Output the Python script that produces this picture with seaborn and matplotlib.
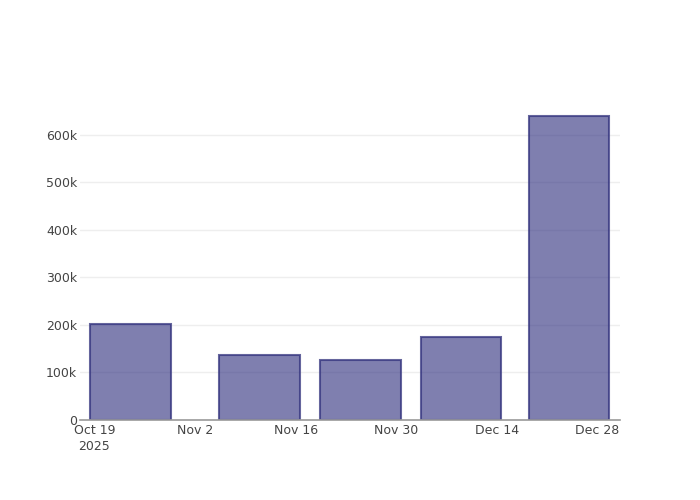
import matplotlib
matplotlib.use("Agg")
import matplotlib.pyplot as plt
import matplotlib.dates as mdates
from matplotlib.ticker import FuncFormatter
import seaborn as sns
import pandas as pd
import numpy as np

dates = ["2025-10-24", "2025-11-11", "2025-11-25", "2025-12-09", "2025-12-24"]
values = [202000, 137000, 126000, 175000, 640000]
tick_dates = ["2025-10-19", "2025-11-02", "2025-11-16", "2025-11-30", "2025-12-14", "2025-12-28"]
tick_labels = ["Oct 19\n2025", "Nov 2", "Nov 16", "Nov 30", "Dec 14", "Dec 28"]

sns.set_theme(style="white")
plt.rcParams["font.family"] = ["DejaVu Sans"]

x_num = mdates.date2num(pd.to_datetime(dates))
df = pd.DataFrame({"x": x_num, "y": values})

fig = plt.figure(figsize=(7, 5), dpi=100)
ax = fig.add_axes([80 / 700, 80 / 500, 540 / 700, 320 / 500])

sns.barplot(data=df, x="x", y="y", native_scale=True, width=0.8, saturation=1,
            color="#2a2a7b", ax=ax, zorder=2)
for p in ax.patches:
    p.set_facecolor((42 / 255, 42 / 255, 123 / 255, 0.6))
    p.set_edgecolor((50 / 255, 50 / 255, 125 / 255, 0.75))
    p.set_linewidth(1.5)

ax.set_xlim(mdates.date2num(pd.Timestamp("2025-10-17")), mdates.date2num(pd.Timestamp("2025-12-31 03:00")))
ax.set_ylim(0, 673000)
ax.set_xticks(mdates.date2num(pd.to_datetime(tick_dates)))
ax.set_xticklabels(tick_labels)
ax.set_yticks([0, 100000, 200000, 300000, 400000, 500000, 600000])
ax.yaxis.set_major_formatter(FuncFormatter(lambda v, _: "0" if v == 0 else f"{int(v/1000)}k"))

ax.yaxis.grid(True, color="#eeeeee", linewidth=1, zorder=0)
ax.set_axisbelow(True)
ax.set_xlabel("")
ax.set_ylabel("")
for s in ["top", "right", "left"]:
    ax.spines[s].set_visible(False)
ax.spines["bottom"].set_color("#9a9a9a")
ax.spines["bottom"].set_linewidth(1.2)
ax.tick_params(axis="both", length=0, labelsize=9, labelcolor="#444444")
ax.tick_params(axis="x", pad=3)
ax.tick_params(axis="y", pad=2)
for lbl in ax.get_xticklabels():
    lbl.set_linespacing(1.3)

fig.savefig("out.png", dpi=100)
